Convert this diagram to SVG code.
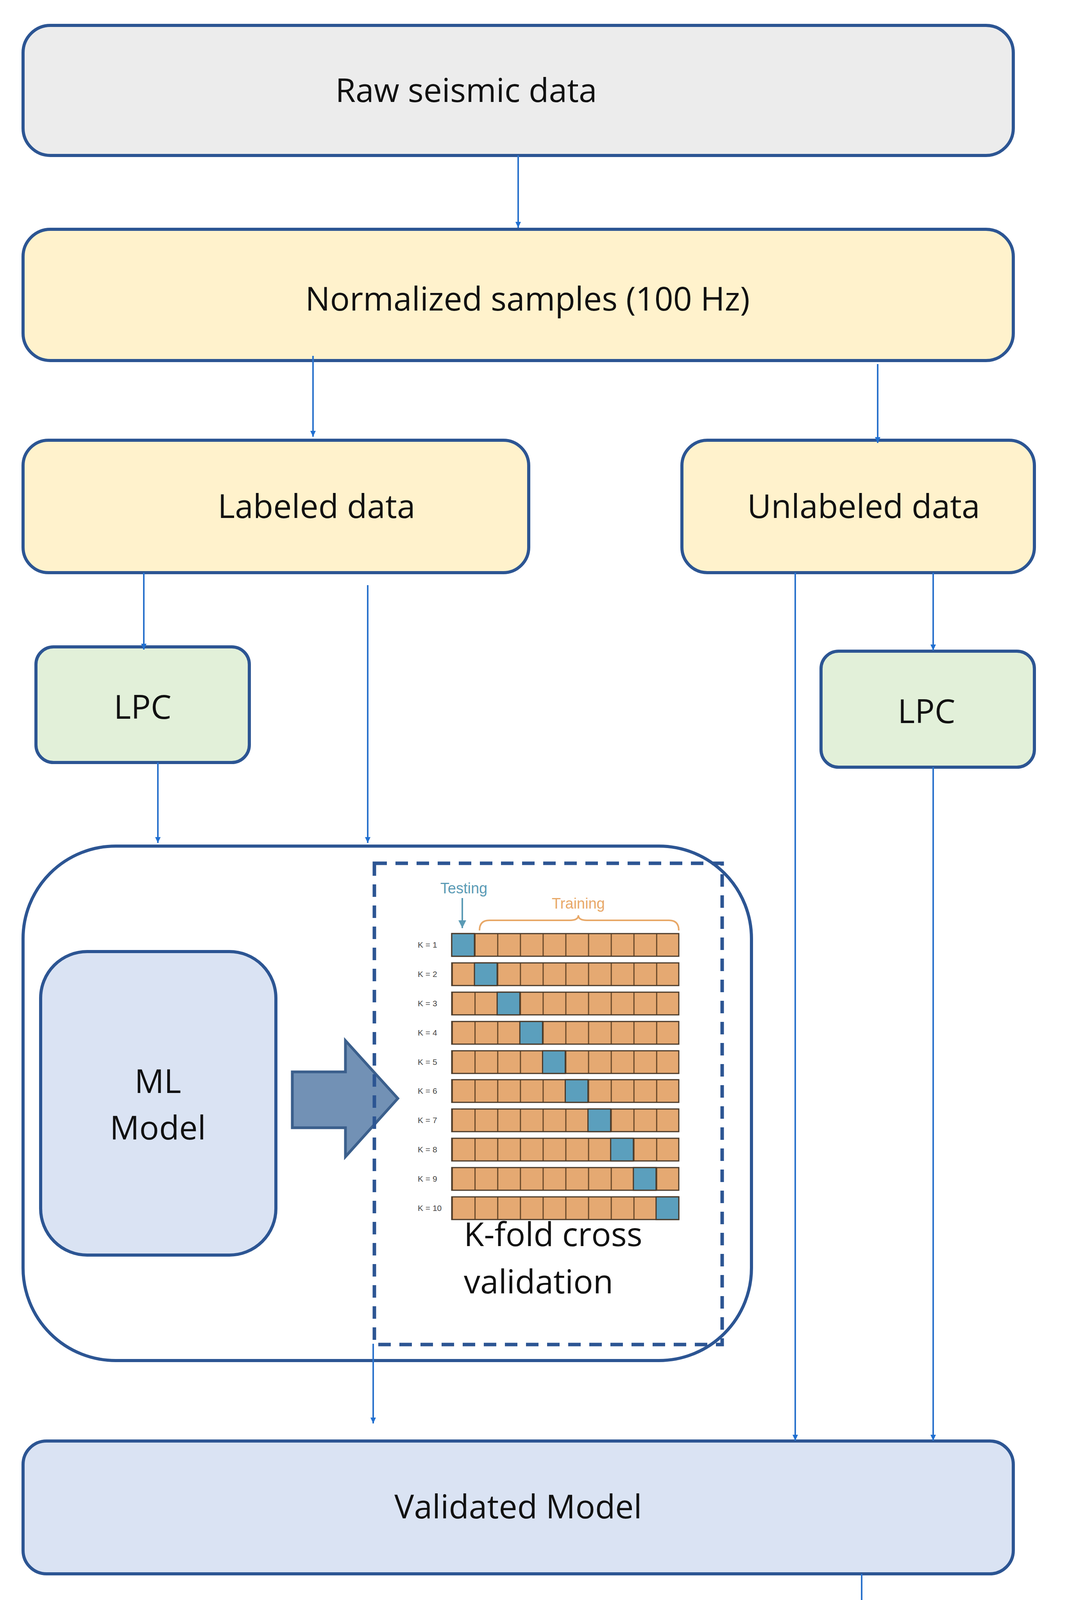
<svg xmlns="http://www.w3.org/2000/svg" width="2733" height="4632" viewBox="0 0 2733 4632">
<style>
.box{stroke:#2c5593;stroke-width:8}
.t{font-family:"Open Sans","Noto Sans",sans-serif;font-size:84px;fill:#111}
.c{stroke:#2a72cc;stroke-width:4;fill:none}
.k{font-family:"Liberation Sans",sans-serif;font-size:21px;fill:#444}
</style>
<defs>
<marker id="ah" markerWidth="15" markerHeight="14" refX="15" refY="7" orient="auto" markerUnits="userSpaceOnUse" viewBox="0 0 15 14">
<path d="M0,0 L15,7 L0,14 Z" fill="#1f6fd1"/>
</marker>
<marker id="ta" markerWidth="5" markerHeight="5" refX="10" refY="5" orient="auto" markerUnits="strokeWidth" viewBox="0 0 10 10">
<path d="M0,0 L10,5 L0,10 Z" fill="#5b9bb5"/>
</marker>
<pattern id="vl" x="1156" y="0" width="58.1" height="80" patternUnits="userSpaceOnUse">
<rect x="0" y="0" width="3" height="80" fill="#6b4a2a"/>
</pattern>
<g id="row">
<rect x="1156" y="0" width="581" height="58" fill="#e5a972"/>
<rect x="1156" y="0" width="581" height="58" fill="url(#vl)"/>
<rect x="1156" y="0" width="581" height="58" fill="none" stroke="#4a3a2a" stroke-width="3"/>
</g>
</defs>
<rect width="2733" height="4632" fill="#fff"/>
<g id="raw"><rect class="box" x="59" y="65" width="2534" height="333" rx="70" fill="#ececec"/><text class="t" x="1193" y="261" text-anchor="middle">Raw seismic data</text></g>
<g id="norm"><rect class="box" x="59" y="587" width="2534" height="336" rx="70" fill="#fff2cc"/><text class="t" x="1350" y="795" text-anchor="middle">Normalized samples (100 Hz)</text></g>
<g id="labeled"><rect class="box" x="59" y="1127" width="1294" height="339" rx="65" fill="#fff2cc"/><text class="t" x="810" y="1326" text-anchor="middle">Labeled data</text></g>
<g id="unlabeled"><rect class="box" x="1745" y="1127" width="902" height="339" rx="65" fill="#fff2cc"/><text class="t" x="2210" y="1326" text-anchor="middle">Unlabeled data</text></g>
<g id="lpc1"><rect class="box" x="92" y="1656" width="546" height="296" rx="45" fill="#e2f0d9"/><text class="t" x="365" y="1840" text-anchor="middle">LPC</text></g>
<g id="lpc2"><rect class="box" x="2101" y="1667" width="546" height="297" rx="45" fill="#e2f0d9"/><text class="t" x="2371" y="1851" text-anchor="middle">LPC</text></g>
<g id="container"><rect class="box" x="59" y="2166" width="1864" height="1317" rx="237" fill="#fff"/></g>
<g id="ml"><rect class="box" x="104" y="2436" width="602" height="777" rx="119" fill="#dae3f3"/><text class="t" x="404" y="2798" text-anchor="middle">ML</text><text class="t" x="404" y="2917" text-anchor="middle">Model</text></g>
<g id="bigarrow"><path d="M748,2744 L884,2744 L884,2664 L1018,2812 L884,2961 L884,2887 L748,2887 Z" fill="#7291b5" stroke="#3b5f8c" stroke-width="7"/></g>
<g id="kfold">
<rect x="958" y="2210" width="890" height="1232" fill="none" stroke="#2c5593" stroke-width="9" stroke-dasharray="32 22"/>
<text x="1187" y="2287" text-anchor="middle" font-family="Liberation Sans,sans-serif" font-size="38" fill="#5b9bb5">Testing</text>
<line x1="1183" y1="2299" x2="1183" y2="2376" stroke="#5b9bb5" stroke-width="4" marker-end="url(#ta)"/>
<text x="1480" y="2326" text-anchor="middle" font-family="Liberation Sans,sans-serif" font-size="38" fill="#e8a868">Training</text>
<path d="M1227,2382 Q1227,2356 1252,2356 L1458,2356 Q1480,2356 1480,2343 Q1480,2356 1502,2356 L1712,2356 Q1737,2356 1737,2382" fill="none" stroke="#e8a868" stroke-width="4"/>
<use href="#row" y="2390"/><use href="#row" y="2465"/><use href="#row" y="2540"/><use href="#row" y="2615"/><use href="#row" y="2690"/>
<use href="#row" y="2764"/><use href="#row" y="2839"/><use href="#row" y="2914"/><use href="#row" y="2989"/><use href="#row" y="3064"/>
<g fill="#5b9fbd" stroke="#4a3a2a" stroke-width="3">
<rect x="1156" y="2390" width="58.1" height="58"/><rect x="1214.1" y="2465" width="58.1" height="58"/><rect x="1272.2" y="2540" width="58.1" height="58"/><rect x="1330.3" y="2615" width="58.1" height="58"/><rect x="1388.4" y="2690" width="58.1" height="58"/>
<rect x="1446.5" y="2764" width="58.1" height="58"/><rect x="1504.6" y="2839" width="58.1" height="58"/><rect x="1562.7" y="2914" width="58.1" height="58"/><rect x="1620.8" y="2989" width="58.1" height="58"/><rect x="1678.9" y="3064" width="58.1" height="58"/>
</g>
<text class="k" x="1069" y="2426">K = 1</text><text class="k" x="1069" y="2501">K = 2</text><text class="k" x="1069" y="2576">K = 3</text><text class="k" x="1069" y="2651">K = 4</text><text class="k" x="1069" y="2726">K = 5</text>
<text class="k" x="1069" y="2800">K = 6</text><text class="k" x="1069" y="2875">K = 7</text><text class="k" x="1069" y="2950">K = 8</text><text class="k" x="1069" y="3025">K = 9</text><text class="k" x="1069" y="3100">K = 10</text>
<text class="t" x="1187" y="3190">K-fold cross</text><text class="t" x="1187" y="3311">validation</text>
</g>
<g id="validated"><rect class="box" x="59" y="3689" width="2534" height="340" rx="60" fill="#dae3f3"/><text class="t" x="1326" y="3887" text-anchor="middle">Validated Model</text></g>
<g id="classification"><rect class="box" x="1464" y="4245" width="1133" height="338" rx="65" fill="#b9e0b0"/><text class="t" x="2030" y="4445" text-anchor="middle">Classification</text></g>
<g id="connectors">
<line class="c" x1="1326" y1="398" x2="1326" y2="583" marker-end="url(#ah)"/>
<line class="c" x1="801" y1="911" x2="801" y2="1118" marker-end="url(#ah)"/>
<line class="c" x1="2246" y1="932" x2="2246" y2="1134" marker-end="url(#ah)"/>
<line class="c" x1="368" y1="1466" x2="368" y2="1663" marker-end="url(#ah)"/>
<line class="c" x1="941" y1="1498" x2="941" y2="2158" marker-end="url(#ah)"/>
<line class="c" x1="404" y1="1952" x2="404" y2="2158" marker-end="url(#ah)"/>
<line class="c" x1="2035" y1="1466" x2="2035" y2="3688" marker-end="url(#ah)"/>
<line class="c" x1="2388" y1="1466" x2="2388" y2="1665" marker-end="url(#ah)"/>
<line class="c" x1="2388" y1="1964" x2="2388" y2="3688" marker-end="url(#ah)"/>
<line class="c" x1="955" y1="3440" x2="955" y2="3644" marker-end="url(#ah)"/>
<line class="c" x1="2205" y1="4029" x2="2205" y2="4229" marker-end="url(#ah)"/>
</g>
</svg>
